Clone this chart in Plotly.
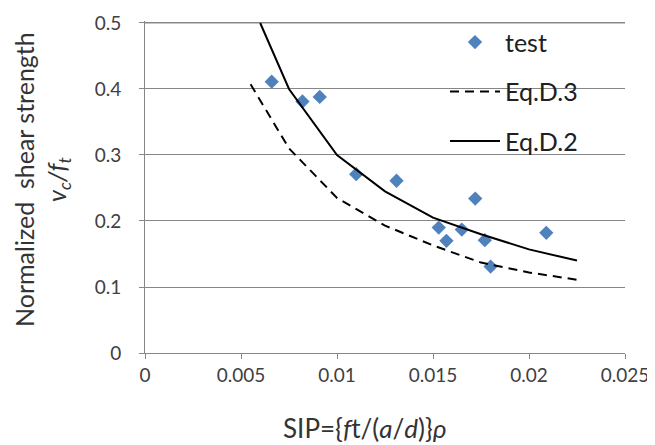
import plotly.graph_objects as go

# Test results
sip_test = [0.0066, 0.0082, 0.0091, 0.0110, 0.0131, 0.0172,
            0.0153, 0.0165, 0.0157, 0.0177, 0.0180, 0.0209]
vc_test = [0.411, 0.381, 0.388, 0.271, 0.261, 0.234,
           0.190, 0.187, 0.170, 0.171, 0.131, 0.182]

# Eq.D.3 (dashed)
sip_d3 = [0.0055, 0.0075, 0.0100, 0.0125, 0.0150, 0.0175, 0.0200, 0.0225]
vc_d3 = [0.407, 0.310, 0.235, 0.193, 0.163, 0.137, 0.122, 0.111]

# Eq.D.2 (solid)
sip_d2 = [0.0060, 0.0075, 0.0100, 0.0125, 0.0150, 0.0175, 0.0200, 0.0225]
vc_d2 = [0.500, 0.400, 0.300, 0.245, 0.205, 0.180, 0.157, 0.140]

x_ticks = [0, 0.005, 0.01, 0.015, 0.02, 0.025]
y_ticks = [0, 0.1, 0.2, 0.3, 0.4, 0.5]

font = "Lato, 'Open Sans', sans-serif"
grey = "#868686"

fig = go.Figure()
fig.add_trace(go.Scatter(x=sip_test, y=vc_test, mode="markers", name="test",
                         legendgroup="a",
                         marker=dict(symbol="diamond", size=11, color="#4F81BD")))
fig.add_trace(go.Scatter(x=sip_d3, y=vc_d3, mode="lines", name="Eq.D.3",
                         legendgroup="b",
                         line=dict(color="black", width=2, dash="9px,6px")))
fig.add_trace(go.Scatter(x=sip_d2, y=vc_d2, mode="lines", name="Eq.D.2",
                         legendgroup="c",
                         line=dict(color="black", width=2)))

# page body adds an 8px offset, so margins are shifted to compensate
fig.update_layout(
    width=655, height=445,
    margin=dict(l=137, r=38, t=11, b=100),
    paper_bgcolor="white", plot_bgcolor="white",
    font=dict(family=font, size=19, color="#404040"),
    showlegend=True,
    legend=dict(x=0.625, y=1.005, xanchor="left", yanchor="top",
                bgcolor="rgba(0,0,0,0)", font=dict(size=25, color="#202020"),
                tracegroupgap=14, traceorder="grouped", itemwidth=50),
)
fig.update_xaxes(range=[0, 0.025], tickvals=x_ticks,
                 ticktext=["0", "0.005", "0.01", "0.015", "0.02", "0.025"],
                 showgrid=False, zeroline=False, automargin=False,
                 showline=True, linecolor=grey, linewidth=1,
                 ticks="outside", ticklen=5, tickcolor=grey,
                 ticklabeloverflow="allow")
fig.update_yaxes(range=[0, 0.503], tickvals=y_ticks,
                 ticktext=["0", "0.1", "0.2", "0.3", "0.4", "0.5"],
                 showgrid=True, gridcolor=grey, gridwidth=1, zeroline=False,
                 automargin=False,
                 showline=True, linecolor=grey, linewidth=1,
                 ticks="outside", ticklen=5, tickcolor=grey,
                 ticklabelstandoff=14, ticklabeloverflow="allow")

# make sure the top gridline at 0.5 is drawn
fig.add_shape(type="line", xref="paper", yref="y", x0=0, x1=1,
              y0=y_ticks[-1], y1=y_ticks[-1],
              line=dict(color=grey, width=1), layer="below")

# Axis titles
fig.add_annotation(text="SIP={<i>f</i>t/(<i>a</i>/<i>d</i>)}<i>ρ</i>",
                   xref="paper", yref="paper", x=0.458, y=-0.226,
                   xanchor="center", yanchor="middle", showarrow=False,
                   font=dict(size=26, color="#333333"))
fig.add_annotation(text="Normalized  shear strength<br><i>v<sub>c</sub>/f<sub>t</sub></i>",
                   xref="paper", yref="paper", x=-0.214, y=0.522,
                   xanchor="center", yanchor="middle", showarrow=False,
                   textangle=-90, font=dict(size=25, color="#333333"))

fig.write_html("out.html")
